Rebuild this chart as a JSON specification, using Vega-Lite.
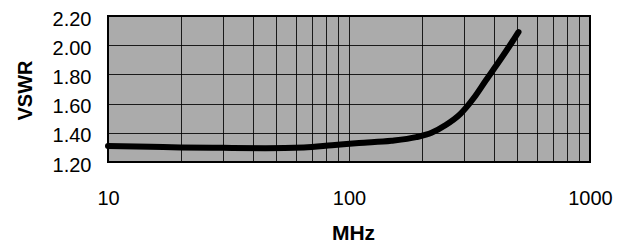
{
  "$schema": "https://vega.github.io/schema/vega-lite/v6.json",
  "width": 482,
  "height": 146,
  "autosize": {"type": "none"},
  "padding": {"left": 108, "top": 16, "right": 39, "bottom": 89},
  "background": "white",
  "config": {
    "view": {"fill": "#ababab", "stroke": "black", "strokeWidth": 2},
    "font": "Liberation Sans"
  },
  "data": {
    "values": [
      {"mhz": 10, "vswr": 1.31},
      {"mhz": 15, "vswr": 1.305},
      {"mhz": 20, "vswr": 1.30},
      {"mhz": 30, "vswr": 1.297},
      {"mhz": 45, "vswr": 1.295},
      {"mhz": 65, "vswr": 1.30},
      {"mhz": 85, "vswr": 1.315},
      {"mhz": 110, "vswr": 1.33},
      {"mhz": 150, "vswr": 1.345},
      {"mhz": 190, "vswr": 1.37},
      {"mhz": 220, "vswr": 1.40},
      {"mhz": 250, "vswr": 1.45},
      {"mhz": 290, "vswr": 1.53},
      {"mhz": 330, "vswr": 1.64},
      {"mhz": 370, "vswr": 1.76},
      {"mhz": 420, "vswr": 1.89},
      {"mhz": 470, "vswr": 2.01},
      {"mhz": 505, "vswr": 2.09}
    ]
  },
  "mark": {"type": "line", "color": "black", "strokeWidth": 6, "interpolate": "monotone", "strokeCap": "round"},
  "encoding": {
    "x": {
      "field": "mhz",
      "type": "quantitative",
      "scale": {"type": "log", "domain": [10, 1000], "nice": false},
      "axis": {
        "title": "MHz",
        "values": [10, 20, 30, 40, 50, 60, 70, 80, 90, 100, 200, 300, 400, 500, 600, 700, 800, 900, 1000],
        "labelExpr": "datum.value == 10 || datum.value == 100 || datum.value == 1000 ? datum.value + '' : ''",
        "labelOverlap": false,
        "labelFontSize": 20,
        "labelColor": "black",
        "labelPadding": 26,
        "labelFlush": false,
        "ticks": false,
        "domain": false,
        "grid": true,
        "gridColor": "black",
        "gridOpacity": 0.85,
        "gridWidth": 1,
        "titleFontSize": 21,
        "titleFontWeight": "bold",
        "titleColor": "black",
        "titleX": 245,
        "titleY": 77,
        "titleBaseline": "alphabetic"
      }
    },
    "y": {
      "field": "vswr",
      "type": "quantitative",
      "scale": {"domain": [1.2, 2.2], "nice": false, "zero": false},
      "axis": {
        "title": "VSWR",
        "values": [1.2, 1.4, 1.6, 1.8, 2.0, 2.2],
        "format": ".2f",
        "labelFontSize": 20,
        "labelColor": "black",
        "labelPadding": 17,
        "labelOffset": 3,
        "labelFlush": false,
        "ticks": false,
        "domain": false,
        "grid": true,
        "gridColor": "black",
        "gridOpacity": 0.85,
        "gridWidth": 1,
        "titleFontSize": 20,
        "titleFontWeight": "bold",
        "titleColor": "black",
        "titleAngle": -90,
        "titleAlign": "center",
        "titleBaseline": "middle",
        "titleX": -83,
        "titleY": 74
      }
    }
  }
}
